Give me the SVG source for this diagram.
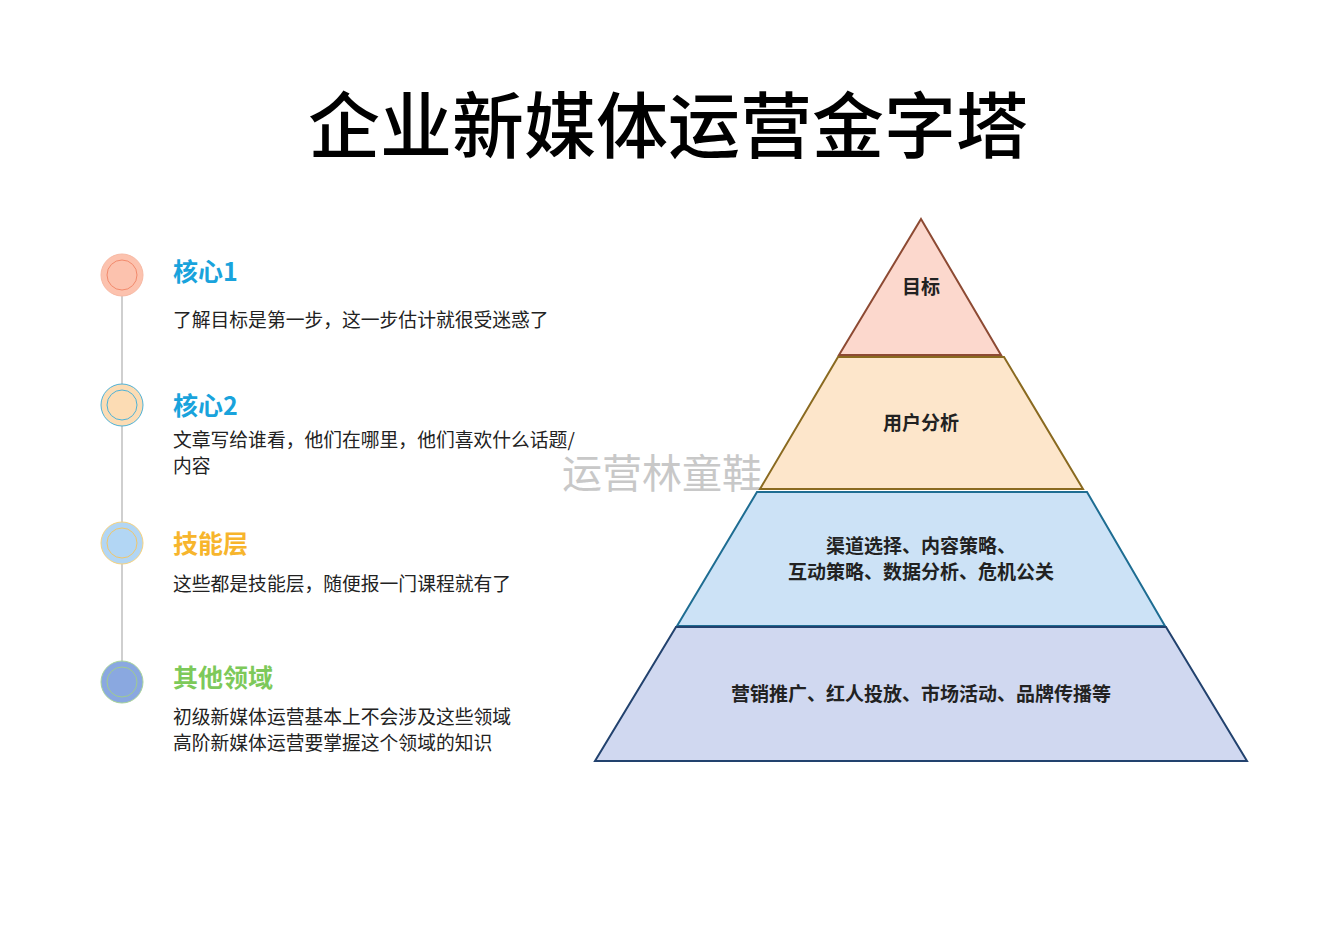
<svg xmlns="http://www.w3.org/2000/svg" width="1334" height="944" viewBox="0 0 1334 944">
<style>
text{font-family:"Noto Sans CJK SC","Noto Sans",sans-serif}
.title{font-size:72px;font-weight:500;fill:#000}
.head{font-size:25px;font-weight:700}
.body{font-size:18.8px;fill:#222}
.tier{font-size:19px;font-weight:700;fill:#222;text-anchor:middle}
</style>
<rect width="1334" height="944" fill="#fff"/>
<text class="title" x="668" y="152" text-anchor="middle">企业新媒体运营金字塔</text>
<g id="connectors"><line x1="122" y1="295" x2="122" y2="662" stroke="#cfcfcf" stroke-width="2"/></g>
<g id="item1"><circle cx="122" cy="275" r="21" fill="#fcc2ae" stroke="#f7b9a4"/><circle cx="122" cy="275" r="15" fill="none" stroke="#f28a6c"/>
<text class="head" x="173" y="281" fill="#19a3dc">核心1</text>
<text class="body" x="173" y="327">了解目标是第一步，这一步估计就很受迷惑了</text></g>
<g id="item2"><circle cx="122" cy="405" r="21" fill="#fcdcb4" stroke="#4fb2d6"/><circle cx="122" cy="405" r="15" fill="none" stroke="#4fb2d6"/>
<text class="head" x="173" y="415" fill="#19a3dc">核心2</text>
<text class="body" x="173" y="447">文章写给谁看，他们在哪里，他们喜欢什么话题/</text>
<text class="body" x="173" y="473">内容</text></g>
<g id="item3"><circle cx="122" cy="543" r="21" fill="#b2d6f4" stroke="#f6d27e"/><circle cx="122" cy="543" r="15" fill="none" stroke="#f0c66a"/>
<text class="head" x="173" y="553" fill="#f7b52c">技能层</text>
<text class="body" x="173" y="591">这些都是技能层，随便报一门课程就有了</text></g>
<g id="item4"><circle cx="122" cy="682" r="21" fill="#8aa8e0" stroke="#a9d49a"/><circle cx="122" cy="682" r="15" fill="none" stroke="#a0cc8e"/>
<text class="head" x="173" y="687" fill="#7dc95a">其他领域</text>
<text class="body" x="173" y="724">初级新媒体运营基本上不会涉及这些领域</text>
<text class="body" x="173" y="750">高阶新媒体运营要掌握这个领域的知识</text></g>
<text x="562" y="488" font-size="40" fill="#c8c8c8" font-family="Noto Sans CJK SC,sans-serif">运营林童鞋</text>
<g id="tier1"><polygon points="921,219 1001,355 839,355" fill="#fcd8cd" stroke="#8d4a33" stroke-width="2"/><text class="tier" x="921" y="294">目标</text></g>
<g id="tier2"><polygon points="838,357 1004,357 1083,489 760,489" fill="#fde6cb" stroke="#8a6a20" stroke-width="2"/><text class="tier" x="921" y="430">用户分析</text></g>
<g id="tier3"><polygon points="757,492 1087,492 1165,626 677,626" fill="#cce2f6" stroke="#1e6d92" stroke-width="2"/><text class="tier" x="921" y="553">渠道选择、内容策略、</text><text class="tier" x="921" y="579">互动策略、数据分析、危机公关</text></g>
<g id="tier4"><polygon points="676,627 1166,627 1247,761 595,761" fill="#d0d8f0" stroke="#22426e" stroke-width="2"/><text class="tier" x="921" y="701">营销推广、红人投放、市场活动、品牌传播等</text></g>
</svg>
